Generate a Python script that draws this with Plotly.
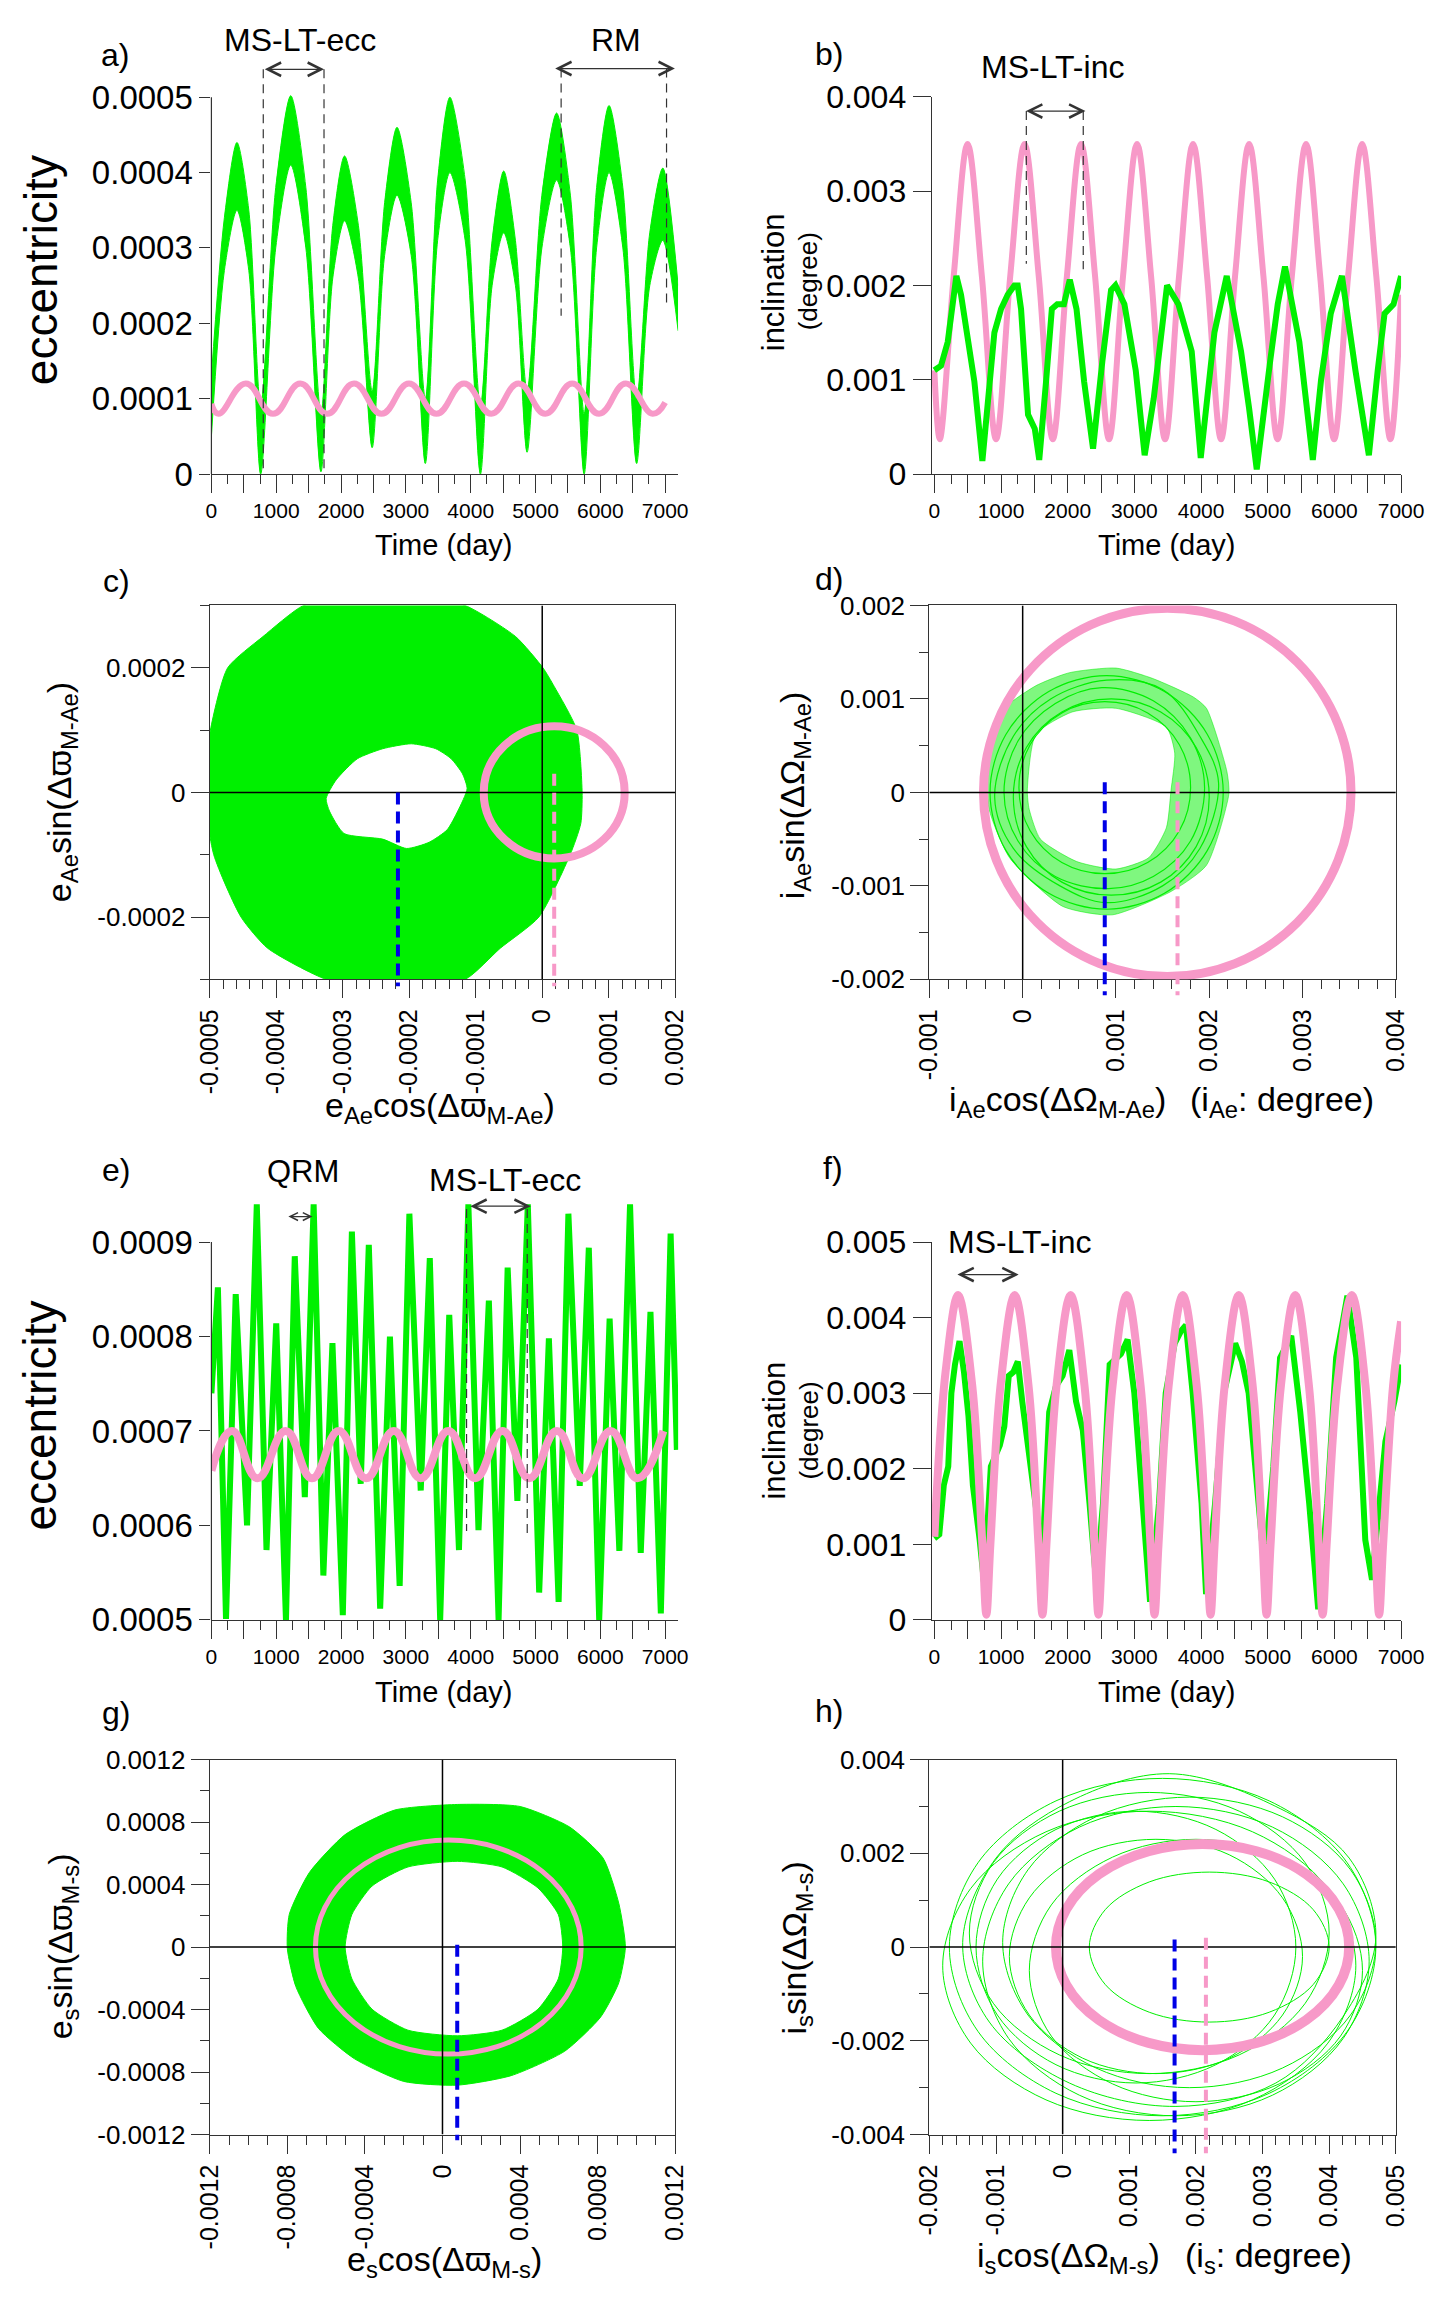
import plotly.graph_objects as go

W, H = 1449, 2309
FONT = "Liberation Sans, Arial, sans-serif"
GREEN = "#00f000"
PINK = "#f799c8"
BLUE = "#0000e6"
INK = "#333333"

# ---------------- values ----------------
time_ticks = [0, 1000, 2000, 3000, 4000, 5000, 6000, 7000]
time_labels = ["0", "1000", "2000", "3000", "4000", "5000", "6000", "7000"]
time_long_ticks = [500, 1500, 2500, 3500, 4500, 5500, 6500]

# a) eccentricity of Ae: upper / lower edge of the fast-oscillation band, and the pink model
a_time = [0, 200, 394, 577, 760, 992, 1224, 1457, 1690, 1872, 2054, 2267, 2480, 2672, 2863, 3082, 3300, 3490,
          3679, 3915, 4150, 4330, 4509, 4690, 4870, 5098, 5325, 5538, 5750, 5942, 6134, 6347, 6560, 6762, 6964, 7200]
a_ecc_hi = [0.00013, 0.00034, 0.00044, 0.00035, 0.00009, 0.00038, 0.000502, 0.00038, 0.00008, 0.00033,
            0.000422, 0.00033, 0.00011, 0.00036, 0.00046, 0.00036, 0.0001, 0.00039, 0.0005, 0.00039,
            0.00009, 0.00031, 0.000402, 0.00031, 0.00011, 0.00037, 0.000479, 0.00037, 0.00008, 0.00038,
            0.000489, 0.00038, 0.0001, 0.00032, 0.000406, 0.00025]
a_ecc_lo = [0.00005, 0.00027, 0.00035, 0.00027, 0.0, 0.0003, 0.00041, 0.0003, 0.000003, 0.00026,
            0.000336, 0.00026, 0.000035, 0.00029, 0.00037, 0.00029, 0.000014, 0.00031, 0.0004, 0.00031,
            0.0, 0.00025, 0.00032, 0.00025, 0.000029, 0.0003, 0.00039, 0.0003, 0.0, 0.0003,
            0.0004, 0.0003, 0.000014, 0.00025, 0.00031, 0.00019]
a_pink_time = [0, 110, 531, 950, 1372, 1786, 2200, 2624, 3048, 3472, 3897, 4318, 4738, 5152, 5566, 5980, 6393, 6806, 7000]
a_pink_ecc = [0.000093, 0.00008, 0.00012, 0.00008, 0.00012, 0.00008, 0.00012, 0.00008, 0.00012, 0.00008,
              0.00012, 0.00008, 0.00012, 0.00008, 0.00012, 0.00008, 0.00012, 0.00008, 0.000095]

# b) inclination of Ae
b_green_time = [0, 100, 200, 300, 330, 400, 480, 600, 720, 834, 900, 1000, 1100, 1200, 1250, 1300, 1405, 1506,
                1573, 1675, 1762, 1843, 1943, 2031, 2132, 2246, 2380, 2520, 2650, 2716, 2850, 3020, 3154, 3290,
                3400, 3490, 3660, 3860, 3995, 4100, 4200, 4385, 4600, 4720, 4835, 5037, 5150, 5259, 5474, 5676,
                5800, 5945, 6113, 6315, 6517, 6650, 6752, 6887, 7000]
b_green_inc = [0.0011, 0.00115, 0.0014, 0.002, 0.0021, 0.0019, 0.0015, 0.00098, 0.00014, 0.001,
               0.0015, 0.00175, 0.0019, 0.002, 0.002, 0.00175, 0.00063, 0.00048, 0.00015, 0.00098,
               0.00175, 0.0018, 0.0018, 0.00206, 0.00175, 0.00098, 0.00027, 0.0012, 0.00195, 0.002,
               0.0018, 0.0011, 0.0002, 0.0008, 0.0014, 0.002, 0.0018, 0.0013, 0.00017, 0.0008,
               0.0015, 0.0021, 0.0013, 0.0007, 0.00005, 0.0012, 0.0018, 0.0022, 0.0014, 0.00015,
               0.001, 0.0017, 0.0021, 0.0011, 0.0002, 0.0011, 0.0017, 0.0018, 0.0021]
b_pink_time = [0, 81, 290, 498, 712, 925, 1138, 1352, 1565, 1776, 1988, 2199, 2410, 2620, 2830, 3040, 3250, 3460,
               3670, 3880, 4090, 4300, 4510, 4721, 4935, 5148, 5362, 5575, 5786, 5996, 6206, 6416, 6628, 6840, 7000]
b_pink_inc = [0.0011, 0.00037, 0.0021, 0.0035, 0.0021, 0.00037, 0.0021, 0.0035, 0.0021, 0.00037, 0.0021, 0.0035,
              0.0021, 0.00037, 0.0021, 0.0035, 0.0021, 0.00037, 0.0021, 0.0035, 0.0021, 0.00037, 0.0021, 0.0035,
              0.0021, 0.00037, 0.0021, 0.0035, 0.0021, 0.00037, 0.0021, 0.0035, 0.0021, 0.00037, 0.0019]

# c) e_Ae phase plane: outer and inner edge of the green ring
c_outer_x = [0.00006, 0.000052, 0.000018, 0.000001, -0.00004, -0.000116, -0.0002, -0.00029, -0.000359, -0.00042,
             -0.000473, -0.000499, -0.000508, -0.000494, -0.000453, -0.000413, -0.000325, -0.00026, -0.00019,
             -0.000116, -0.000063, -0.000005, 0.000042, 0.000058, 0.00006]
c_outer_y = [0.0, 0.0001, 0.00017, 0.0002, 0.00025, 0.0003, 0.000317, 0.000312, 0.0003, 0.00025,
             0.0002, 0.0001, 0.0, -0.0001, -0.0002, -0.00025, -0.0003, -0.000308, -0.000305,
             -0.0003, -0.00025, -0.0002, -0.0001, -0.00005, 0.0]
c_inner_x = [-0.000113, -0.000127, -0.000143, -0.00017, -0.000204, -0.00024, -0.000298, -0.00032, -0.000325,
             -0.00031, -0.000278, -0.00024, -0.000197, -0.00016, -0.000137, -0.00012, -0.000113]
c_inner_y = [0.000006, -0.00003, -0.00006, -0.00008, -0.00009, -0.000075, -0.000066, -0.00003, -0.00001,
             0.00002, 0.000054, 0.00007, 0.000078, 0.00007, 0.000054, 0.00003, 0.000006]
c_pink_circle = [0.000018, 0.0, 0.000106]      # centre x, centre y, radius
c_blue_dash = [-0.000217, 0.0, -0.000311]      # x, top, bottom
c_pink_dash = [0.000018, 0.00003, -0.000311]

# d) i_Ae phase plane
d_outer_x = [0.00221, 0.00219, 0.00197, 0.00183, 0.00139, 0.001, 0.0005, 0.00014, -0.00024, -0.00039,
             -0.00036, -0.00014, 0.00043, 0.00096, 0.00159, 0.00197, 0.00221]
d_outer_y = [-0.00002, 0.00022, 0.0009, 0.00102, 0.00122, 0.00133, 0.00128, 0.00114, 0.00086, 0.00038,
             -0.00018, -0.0007, -0.00122, -0.00131, -0.00106, -0.00078, -0.00002]
d_inner_x = [0.00159, 0.00154, 0.00135, 0.001, 0.00058, 0.00019, 0.00007, 0.00005, 0.00014, 0.00053,
             0.001, 0.00154, 0.00163, 0.00159]
d_inner_y = [0.00002, -0.00038, -0.0007, -0.00082, -0.00074, -0.0005, -0.00018, 0.00002, 0.00062, 0.00086,
             0.0009, 0.0007, 0.00042, 0.00002]
d_loops_x = [
    [0.00215, 0.00198, 0.00152, 0.0009, 0.00028, -0.00018, -0.00035, -0.00018, 0.00028, 0.0009, 0.00152, 0.00198, 0.00215],
    [0.002, 0.00186, 0.00148, 0.00095, 0.00042, 0.00004, -0.0001, 0.00004, 0.00042, 0.00095, 0.00148, 0.00186, 0.002],
    [0.0018, 0.00168, 0.00134, 0.00088, 0.00042, 0.00008, -0.00004, 0.00008, 0.00042, 0.00088, 0.00134, 0.00168, 0.0018],
    [0.0021, 0.0019, 0.0015, 0.0009, 0.0003, -0.0001, -0.0003, -0.0001, 0.0004, 0.0009, 0.0015, 0.0019, 0.0021],
    [0.00195, 0.0018, 0.0014, 0.00085, 0.00035, -0.00005, -0.0002, -0.00005, 0.00035, 0.00092, 0.0014, 0.0018, 0.00195],
]
d_loops_y = [
    [0.0, 0.00062, 0.00108, 0.00125, 0.00108, 0.00062, 0.0, -0.00062, -0.00108, -0.00125, -0.00108, -0.00062, 0.0],
    [-0.00005, 0.00048, 0.00086, 0.001, 0.00086, 0.00048, -0.00005, -0.00058, -0.00096, -0.0011, -0.00096, -0.00058, -0.00005],
    [0.00005, 0.00051, 0.00085, 0.00097, 0.00085, 0.00051, 0.00005, -0.00041, -0.00075, -0.00087, -0.00075, -0.00041, 0.00005],
    [0.0001, 0.0006, 0.0011, 0.0012, 0.001, 0.0006, -0.00005, -0.0006, -0.001, -0.00118, -0.001, -0.0006, 0.0001],
    [0.00005, 0.00058, 0.00098, 0.00112, 0.00095, 0.00055, 0.0, -0.00052, -0.0009, -0.00103, -0.0009, -0.00052, 0.00005],
]
d_pink_circle = [0.00155, 0.0, 0.00197]
d_blue_dash = [0.00088, 0.000108, -0.00217]
d_pink_dash = [0.00166, 0.000108, -0.00217]

# e) eccentricity of s
e_green_time = [0, 100, 225, 375, 550, 700, 850, 1000, 1150, 1286, 1441, 1577, 1727, 1867, 2027, 2167, 2303,
                2428, 2603, 2754, 2904, 3054, 3229, 3369, 3529, 3669, 3819, 3964, 4120, 4280, 4430, 4570, 4720,
                4881, 5056, 5206, 5356, 5507, 5682, 5822, 5982, 6143, 6293, 6458, 6623, 6773, 6933, 7084, 7180]
e_green_ecc = [0.00074, 0.000852, 0.000501, 0.000845, 0.0006, 0.00094, 0.000574, 0.000814, 0.0005, 0.000885,
               0.00063, 0.00094, 0.000547, 0.000793, 0.000505, 0.000911, 0.000644, 0.000897, 0.000512, 0.0008,
               0.000536, 0.00093, 0.000637, 0.000883, 0.0005, 0.000823, 0.000574, 0.00094, 0.000595, 0.000838,
               0.0005, 0.000873, 0.000626, 0.00094, 0.000529, 0.000798, 0.000519, 0.00093, 0.000642, 0.000894,
               0.0005, 0.000819, 0.000573, 0.00094, 0.000571, 0.000826, 0.000507, 0.000909, 0.00068]
e_pink_time = [0, 317, 710, 1145, 1552, 1966, 2386, 2814, 3228, 3655, 4069, 4490, 4903, 5331, 5731, 6159, 6572, 6972]
e_pink_ecc = [0.000658, 0.0007, 0.00065, 0.0007, 0.00065, 0.0007, 0.00065, 0.0007, 0.00065, 0.0007,
              0.00065, 0.0007, 0.00065, 0.0007, 0.00065, 0.0007, 0.00065, 0.0007]

# f) inclination of s
f_green_time = [0, 74, 141, 208, 255, 309, 377, 444, 511, 578, 679, 746, 847, 982, 1049, 1116, 1184, 1251, 1318,
                1453, 1587, 1621, 1722, 1822, 1923, 2024, 2125, 2226, 2327, 2428, 2529, 2629, 2798, 2898, 2999,
                3134, 3235, 3369, 3470, 3605, 3705, 3773, 3874, 4008, 4075, 4210, 4344, 4512, 4613, 4714, 4815,
                4950, 5084, 5185, 5353, 5488, 5622, 5757, 5891, 6026, 6127, 6194, 6328, 6463, 6564, 6665, 6765,
                6900, 7000]
f_green_inc = [0.00108, 0.00113, 0.00178, 0.00203, 0.003, 0.00338, 0.00369, 0.00328, 0.0027, 0.00178,
               0.00106, 0.00048, 0.00203, 0.00231, 0.00256, 0.00323, 0.00328, 0.00342, 0.00289, 0.00203,
               0.00116, 0.00082, 0.00275, 0.00309, 0.00323, 0.00357, 0.00289, 0.00251, 0.00154, 0.00048,
               0.00154, 0.00338, 0.00352, 0.00371, 0.003, 0.00154, 0.00024, 0.00154, 0.003, 0.00366,
               0.00383, 0.0039, 0.003, 0.00154, 0.00034, 0.00154, 0.003, 0.00366, 0.00342, 0.003,
               0.00203, 0.00068, 0.00203, 0.00347, 0.00376, 0.00275, 0.00154, 0.00014, 0.00154, 0.00347,
               0.00395, 0.00429, 0.00347, 0.00106, 0.00053, 0.00154, 0.00236, 0.00289, 0.00338]
f_pink_time = [0, 170, 356, 568, 720, 780, 840, 992, 1204, 1412, 1561, 1621, 1681, 1832, 2044, 2252, 2401, 2461,
               2521, 2673, 2885, 3093, 3242, 3302, 3362, 3514, 3726, 3934, 4083, 4143, 4203, 4354, 4566, 4774,
               4923, 4983, 5043, 5198, 5413, 5618, 5764, 5824, 5884, 6042, 6261, 6466, 6611, 6671, 6731, 6880, 7000]
f_pink_inc = [0.0011, 0.0033, 0.0043,
              0.0031, 0.001, 0.00007, 0.001, 0.0031, 0.0043,
              0.0031, 0.001, 0.00007, 0.001, 0.0031, 0.0043,
              0.0031, 0.001, 0.00007, 0.001, 0.0031, 0.0043,
              0.0031, 0.001, 0.00007, 0.001, 0.0031, 0.0043,
              0.0031, 0.001, 0.00007, 0.001, 0.0031, 0.0043,
              0.0031, 0.001, 0.00007, 0.001, 0.0031, 0.0043,
              0.0031, 0.001, 0.00007, 0.001, 0.0031, 0.0043,
              0.0031, 0.001, 0.00007, 0.001, 0.0031, 0.00395]

# g) e_s phase plane
g_outer_x = [0.000943, 0.000909, 0.000828, 0.000654, 0.0004, 0.000076, -0.000247, -0.000502, -0.000687, -0.00079,
             -0.0008, -0.000756, -0.00064, -0.000455, -0.0002, 0.000076, 0.000354, 0.000631, 0.000816, 0.000909,
             0.000943]
g_outer_y = [0.0, 0.00028, 0.00057, 0.00077, 0.0009, 0.000913, 0.000877, 0.00072, 0.000476, 0.000209,
             -0.00001, -0.000253, -0.00052, -0.000714, -0.00086, -0.000884, -0.000823, -0.000666, -0.000447,
             -0.000228, 0.0]
g_inner_x = [0.00062, 0.000597, 0.000492, 0.000307, 0.000076, -0.000178, -0.000363, -0.000467, -0.000502,
             -0.000467, -0.000363, -0.000178, 0.000076, 0.000307, 0.000492, 0.000597, 0.00062]
g_inner_y = [0.0, -0.000204, -0.000398, -0.000532, -0.000568, -0.000532, -0.000398, -0.000204, 0.0,
             0.000209, 0.000391, 0.000513, 0.000549, 0.000513, 0.000379, 0.000209, 0.0]
g_pink_circle = [0.00003, 0.0, 0.000685]
g_blue_dash = [0.000076, 0.000015, -0.001236]

# h) i_s phase plane: loose loops
h_loops_x = [
    [0.0047, 0.00427, 0.0031, 0.0015, -0.0001, -0.00127, -0.0017, -0.00127, -0.0001, 0.0015, 0.0031, 0.00427, 0.0047],
    [0.0046, 0.00421, 0.00315, 0.0017, 0.00025, -0.00081, -0.0012, -0.00081, 0.00025, 0.0017, 0.00315, 0.00421, 0.0046],
    [0.004, 0.00364, 0.00265, 0.0013, -0.00005, -0.00104, -0.0014, -0.00104, -0.00005, 0.0013, 0.00265, 0.00364, 0.004],
    [0.0045, 0.00417, 0.00325, 0.002, 0.00075, -0.00017, -0.0005, -0.00017, 0.00075, 0.002, 0.00325, 0.00417, 0.0045],
    [0.0047, 0.0043, 0.0032, 0.0016, 0.0001, -0.001, -0.0015, -0.0011, 0.0001, 0.0017, 0.0032, 0.0042, 0.0047],
    [0.004, 0.00376, 0.0031, 0.0022, 0.0013, 0.00064, 0.0004, 0.00064, 0.0013, 0.0022, 0.0031, 0.00376, 0.004],
    [0.0036, 0.0033, 0.0025, 0.0014, 0.0003, -0.0005, -0.0008, -0.0005, 0.0003, 0.0014, 0.0025, 0.0033, 0.0036],
    [0.0044, 0.00398, 0.00285, 0.0013, -0.00025, -0.00138, -0.0018, -0.00138, -0.00025, 0.0013, 0.00285, 0.00398, 0.0044],
    [0.0047, 0.00432, 0.0033, 0.0019, 0.0005, -0.00052, -0.0009, -0.00052, 0.0005, 0.0019, 0.0033, 0.00432, 0.0047],
    [0.0035, 0.00318, 0.0023, 0.0011, -0.0001, -0.00098, -0.0013, -0.00098, -0.0001, 0.0011, 0.0023, 0.00318, 0.0035],
]
h_loops_y = [
    [0.0, 0.0018, 0.00312, 0.0036, 0.00312, 0.0018, 0.0, -0.0018, -0.00312, -0.0036, -0.00312, -0.0018, 0.0],
    [-0.0003, 0.00135, 0.00256, 0.003, 0.00256, 0.00135, -0.0003, -0.00195, -0.00316, -0.0036, -0.00316, -0.00195, -0.0003],
    [0.0003, 0.0018, 0.0029, 0.0033, 0.0029, 0.0018, 0.0003, -0.0012, -0.0023, -0.0027, -0.0023, -0.0012, 0.0003],
    [-0.0005, 0.0009, 0.00192, 0.0023, 0.00192, 0.0009, -0.0005, -0.0019, -0.00292, -0.0033, -0.00292, -0.0019, -0.0005],
    [0.0002, 0.0019, 0.003, 0.0037, 0.0031, 0.0019, 0.0001, -0.0016, -0.0029, -0.0034, -0.0029, -0.0015, 0.0002],
    [0.0, 0.0008, 0.00139, 0.0016, 0.00139, 0.0008, 0.0, -0.0008, -0.00139, -0.0016, -0.00139, -0.0008, 0.0],
    [-0.0002, 0.00105, 0.00197, 0.0023, 0.00197, 0.00105, -0.0002, -0.00145, -0.00237, -0.0027, -0.00237, -0.00145, -0.0002],
    [-0.0004, 0.00125, 0.00246, 0.0029, 0.00246, 0.00125, -0.0004, -0.00205, -0.00326, -0.0037, -0.00326, -0.00205, -0.0004],
    [0.0001, 0.00165, 0.00278, 0.0032, 0.00278, 0.00165, 0.0001, -0.00145, -0.00258, -0.003, -0.00258, -0.00145, 0.0001],
    [0.0, 0.00145, 0.00251, 0.0029, 0.00251, 0.00145, 0.0, -0.00145, -0.00251, -0.0029, -0.00251, -0.00145, 0.0],
]
h_pink_circle = [0.0021, 0.0, 0.0022]
h_blue_dash = [0.00168, 0.00016, -0.0044]
h_pink_dash = [0.00215, 0.0002, -0.0044]

# period markers on the time plots: [start, end, level]
a_msltecc = [800, 1737, 0.000537]
a_rm = [5280, 7150, 0.000538]
a_guides = [[800, 0.000537, 0.000005], [1737, 0.000537, 0.000005], [5395, 0.000538, 0.00021], [7021, 0.000538, 0.000224]]
b_msltinc = [1352, 2266, 0.003848]
b_guides = [[1379, 0.003848, 0.00223], [2233, 0.003848, 0.00217]]
e_qrm = [1164, 1559, 0.000927]
e_msltecc = [3971, 4927, 0.000938]
e_guides = [[3936, 0.000935, 0.000594], [4872, 0.000935, 0.000587]]
f_msltinc = [323, 1264, 0.00457]


# ---------------- layout helpers ----------------
def xid(n):
    return "x" if n == 1 else "x%d" % n


def yid(n):
    return "y" if n == 1 else "y%d" % n


def xdom(p0, p1):
    return [p0 / W, p1 / W]


def ydom(top, bottom):
    return [1 - bottom / H, 1 - top / H]


def frac(v, rng):
    return (v - rng[0]) / (rng[1] - rng[0])


def fmt(v):
    if v == 0:
        return "0"
    return ("%.4f" % v).rstrip("0")


def ticks_style(ticklen, size):
    return dict(ticks="outside", ticklen=ticklen, tickwidth=1.2, tickcolor=INK,
                tickfont=dict(size=size, color="black", family=FONT),
                showgrid=False, zeroline=False, fixedrange=True)


def minor_ticks(step, ticklen=9):
    return dict(tickmode="linear", tick0=0, dtick=step, ticks="outside", ticklen=ticklen, tickcolor=INK, tickwidth=1.2)


def time_x(n, px, rng):
    d = dict(domain=xdom(*px), range=rng, anchor=yid(n), showline=True, linecolor=INK, linewidth=1.2,
             tickmode="array", tickvals=time_ticks, ticktext=time_labels, minor=minor_ticks(250))
    d.update(ticks_style(18, 21))
    return d


def long_ticks_x(n, px, rng):
    # second, label-free axis that only adds the long ticks half way between the labels
    d = dict(domain=xdom(*px), range=rng, anchor=yid(n), overlaying=xid(n), side="bottom", showline=False,
             tickmode="array", tickvals=time_long_ticks, showticklabels=False)
    d.update(ticks_style(18, 21))
    return d


def value_y(n, py, rng, vals, ticklen, size, showline=True, mirror=False, minor=None):
    d = dict(domain=ydom(*py), range=rng, anchor=xid(n), showline=showline, mirror=mirror, linecolor=INK,
             linewidth=1.2, tickmode="array", tickvals=vals, ticktext=[fmt(v) for v in vals])
    d.update(ticks_style(ticklen, size))
    if minor:
        d["minor"] = minor_ticks(minor)
    return d


def phase_x(n, px, rng, vals, minor):
    d = dict(domain=xdom(*px), range=rng, anchor=yid(n), showline=True, mirror=True, linecolor=INK, linewidth=1.2,
             tickmode="array", tickvals=vals, ticktext=[fmt(v) for v in vals], tickangle=-90, ticklabelstandoff=1,
             minor=minor_ticks(minor))
    d.update(ticks_style(18, 25))
    return d


ranges = {
    1: ([0, 7200], [0, 0.00056]),
    2: ([-40, 7000], [0, 0.004]),
    3: ([-0.0005, 0.0002], [-0.0003, 0.0003]),
    4: ([-0.001, 0.004], [-0.002, 0.002]),
    5: ([0, 7200], [0.0005, 0.00097]),
    6: ([-40, 7000], [0, 0.005]),
    7: ([-0.0012, 0.0012], [-0.0012, 0.0012]),
    8: ([-0.002, 0.005], [-0.004, 0.004]),
}
time_px = {1: (201.7, 681), 2: (941.4, 1423.4), 5: (201.7, 681), 6: (941.4, 1423.4)}

axes = {
    "xaxis": time_x(1, time_px[1], ranges[1][0]),
    "yaxis": value_y(1, (34.5, 463.5), ranges[1][1], [0, 0.0001, 0.0002, 0.0003, 0.0004, 0.0005], 11, 33, showline=False),
    "xaxis2": time_x(2, time_px[2], ranges[2][0]),
    "yaxis2": value_y(2, (80, 463.5), ranges[2][1], [0, 0.001, 0.002, 0.003, 0.004], 18, 32),
    "xaxis3": phase_x(3, (200, 678), ranges[3][0], [-0.0005, -0.0004, -0.0003, -0.0002, -0.0001, 0, 0.0001, 0.0002], 0.00002),
    "yaxis3": value_y(3, (597, 977), ranges[3][1], [-0.0002, 0, 0.0002], 18, 26, mirror=True, minor=0.0001),
    "xaxis4": phase_x(4, (939, 1418), ranges[4][0], [-0.001, 0, 0.001, 0.002, 0.003, 0.004], 0.0002),
    "yaxis4": value_y(4, (597, 977), ranges[4][1], [-0.002, -0.001, 0, 0.001, 0.002], 18, 26, mirror=True, minor=0.0005),
    "xaxis5": time_x(5, time_px[5], ranges[5][0]),
    "yaxis5": value_y(5, (1176.8, 1628), ranges[5][1], [0.0005, 0.0006, 0.0007, 0.0008, 0.0009], 11, 33, showline=False),
    "xaxis6": time_x(6, time_px[6], ranges[6][0]),
    "yaxis6": value_y(6, (1244, 1628), ranges[6][1], [0, 0.001, 0.002, 0.003, 0.004, 0.005], 18, 32),
    "xaxis7": phase_x(7, (200, 678), ranges[7][0], [-0.0012, -0.0008, -0.0004, 0, 0.0004, 0.0008, 0.0012], 0.0001),
    "yaxis7": value_y(7, (1770, 2151), ranges[7][1], [-0.0012, -0.0008, -0.0004, 0, 0.0004, 0.0008, 0.0012], 18, 26, mirror=True, minor=0.0002),
    "xaxis8": phase_x(8, (939, 1418), ranges[8][0], [-0.002, -0.001, 0, 0.001, 0.002, 0.003, 0.004, 0.005], 0.0002),
    "yaxis8": value_y(8, (1770, 2151), ranges[8][1], [-0.004, -0.002, 0, 0.002, 0.004], 18, 26, mirror=True, minor=0.001),
}
for extra, n in zip((9, 10, 11, 12), (1, 2, 5, 6)):
    axes["xaxis%d" % extra] = long_ticks_x(n, time_px[n], ranges[n][0])

fig = go.Figure()


def add(n, xa=None, **kw):
    fig.add_trace(go.Scatter(xaxis=xa or xid(n), yaxis=yid(n), showlegend=False, hoverinfo="skip", **kw))


def ring(n, ox, oy, ix, iy, color):
    # outer edge one way round, inner edge the other way, so the middle stays empty
    add(n, x=ox + [None] + ix, y=oy + [None] + iy, mode="lines", fill="toself", fillcolor=color,
        line=dict(color=color, width=1, shape="spline", smoothing=0.6))


def circle(n, c, width):
    cx, cy, r = c
    fig.add_shape(type="circle", xref=xid(n), yref=yid(n), x0=cx - r, x1=cx + r, y0=cy - r, y1=cy + r,
                  line=dict(color=PINK, width=width), layer="above")


def zero_lines(n):
    xr, yr = ranges[n]
    fig.add_shape(type="line", xref=xid(n), yref=yid(n), x0=0, x1=0, y0=yr[0], y1=yr[1],
                  line=dict(color="black", width=1.5), layer="above")
    fig.add_shape(type="line", xref=xid(n), yref=yid(n), x0=xr[0], x1=xr[1], y0=0, y1=0,
                  line=dict(color="black", width=1.5), layer="above")


def dash(n, d, color):
    xr, yr = ranges[n]
    fig.add_shape(type="line", xref=xid(n) + " domain", yref=yid(n) + " domain",
                  x0=frac(d[0], xr), x1=frac(d[0], xr), y0=frac(d[1], yr), y1=frac(d[2], yr),
                  line=dict(color=color, width=4, dash="12px,7px"), layer="above")


def guide(n, g):
    fig.add_shape(type="line", xref=xid(n), yref=yid(n), x0=g[0], x1=g[0], y0=g[1], y1=g[2],
                  line=dict(color=INK, width=1.2, dash="9px,6px"), layer="above")


def arrow(n, a, size=2.2):
    fig.add_annotation(x=a[1], y=a[2], ax=a[0], ay=a[2], xref=xid(n), yref=yid(n), axref=xid(n), ayref=yid(n),
                       text="", showarrow=True, arrowhead=5, startarrowhead=5, arrowside="end+start",
                       arrowsize=size, startarrowsize=size, arrowwidth=1.2, arrowcolor=INK)


def label(s, x, y, size, angle=0):
    fig.add_annotation(text=s, x=x / W, y=1 - y / H, xref="paper", yref="paper", showarrow=False,
                       textangle=angle, xanchor="center", yanchor="middle",
                       font=dict(size=size, color="black", family=FONT))


def axis_line(n, y0, y1):
    fig.add_shape(type="line", xref=xid(n) + " domain", yref=yid(n), x0=0, x1=0, y0=y0, y1=y1,
                  line=dict(color=INK, width=1.2))


# a)
add(1, x=a_time, y=a_ecc_lo, mode="lines", line=dict(color=GREEN, width=1, shape="spline", smoothing=0.8))
add(1, x=a_time, y=a_ecc_hi, mode="lines", fill="tonexty", fillcolor=GREEN,
    line=dict(color=GREEN, width=1, shape="spline", smoothing=0.8))
add(1, x=a_pink_time, y=a_pink_ecc, mode="lines", line=dict(color=PINK, width=6, shape="spline", smoothing=1.3))
axis_line(1, 0, 0.0005)
for g in a_guides:
    guide(1, g)
arrow(1, a_msltecc)
arrow(1, a_rm)

# b)
add(2, x=b_pink_time, y=b_pink_inc, mode="lines", line=dict(color=PINK, width=6, shape="spline", smoothing=1.0))
add(2, x=b_green_time, y=b_green_inc, mode="lines", line=dict(color=GREEN, width=6))
for g in b_guides:
    guide(2, g)
arrow(2, b_msltinc)

# c)
ring(3, c_outer_x, c_outer_y, c_inner_x, c_inner_y, GREEN)
circle(3, c_pink_circle, 8)
zero_lines(3)
dash(3, c_blue_dash, BLUE)
dash(3, c_pink_dash, PINK)

# d)
ring(4, d_outer_x, d_outer_y, d_inner_x, d_inner_y, "rgba(0,240,0,0.5)")
for lx, ly in zip(d_loops_x, d_loops_y):
    add(4, x=lx, y=ly, mode="lines", line=dict(color=GREEN, width=1.2, shape="spline", smoothing=1.0))
circle(4, d_pink_circle, 9)
zero_lines(4)
dash(4, d_blue_dash, BLUE)
dash(4, d_pink_dash, PINK)

# e)
add(5, x=e_green_time, y=e_green_ecc, mode="lines", line=dict(color=GREEN, width=6))
add(5, x=e_pink_time, y=e_pink_ecc, mode="lines", line=dict(color=PINK, width=8, shape="spline", smoothing=1.3))
axis_line(5, 0.0005, 0.0009)
for g in e_guides:
    guide(5, g)
arrow(5, e_qrm, 1.3)
arrow(5, e_msltecc)

# f)
add(6, x=f_green_time, y=f_green_inc, mode="lines", line=dict(color=GREEN, width=6))
add(6, x=f_pink_time, y=f_pink_inc, mode="lines", line=dict(color=PINK, width=8, shape="spline", smoothing=1.0))
arrow(6, f_msltinc)

# g)
ring(7, g_outer_x, g_outer_y, g_inner_x, g_inner_y, GREEN)
circle(7, g_pink_circle, 5)
zero_lines(7)
dash(7, g_blue_dash, BLUE)

# h)
for lx, ly in zip(h_loops_x, h_loops_y):
    add(8, x=lx, y=ly, mode="lines", line=dict(color=GREEN, width=1, shape="spline", smoothing=1.0))
circle(8, h_pink_circle, 10)
zero_lines(8)
dash(8, h_blue_dash, BLUE)
dash(8, h_pink_dash, PINK)

# the long-tick axes need a trace to be drawn; an empty one is enough
for extra, n in zip((9, 10, 11, 12), (1, 2, 5, 6)):
    add(n, xa="x%d" % extra, x=[], y=[], mode="lines")

# panel letters and period names
for s, x, y in [("a)", 103, 38), ("b)", 836, 37), ("c)", 104, 572), ("d)", 836, 570),
                ("e)", 104, 1171), ("f)", 840, 1169), ("g)", 104, 1723), ("h)", 836, 1721)]:
    label(s, x, y, 32)
label("MS-LT-ecc", 293, 22, 32)
label("RM", 617, 22, 32)
label("MS-LT-inc", 1065, 50, 32)
label("QRM", 296, 1172, 31)
label("MS-LT-ecc", 503, 1181, 32)
label("MS-LT-inc", 1032, 1244, 32)

# axis titles
label("eccentricity", 27, 256, 46, -90)
label("eccentricity", 26, 1420, 46, -90)
label("inclination", 779, 269, 31, -90)
label("(degree)", 814, 268, 26, -90)
label("inclination", 780, 1436, 31, -90)
label("(degree)", 815, 1436, 26, -90)
for y in (536, 1701):
    label("Time (day)", 441, y, 29)
for y in (536, 1701):
    label("Time (day)", 1183, y, 29)
label("e<sub>Ae</sub>sin(\u0394\u03d6<sub>M-Ae</sub>)", 48, 787, 34, -90)
label("e<sub>Ae</sub>cos(\u0394\u03d6<sub>M-Ae</sub>)", 436, 1107, 34)
label("i<sub>Ae</sub>sin(\u0394\u03a9<sub>M-Ae</sub>)", 800, 790, 34, -90)
label("i<sub>Ae</sub>cos(\u0394\u03a9<sub>M-Ae</sub>)", 1071, 1101, 34)
label("(i<sub>Ae</sub>: degree)", 1301, 1101, 34)
label("e<sub>s</sub>sin(\u0394\u03d6<sub>M-s</sub>)", 49, 1960, 34, -90)
label("e<sub>s</sub>cos(\u0394\u03d6<sub>M-s</sub>)", 441, 2280, 34)
label("i<sub>s</sub>sin(\u0394\u03a9<sub>M-s</sub>)", 803, 1961, 34, -90)
label("i<sub>s</sub>cos(\u0394\u03a9<sub>M-s</sub>)", 1082, 2276, 34)
label("(i<sub>s</sub>: degree)", 1287, 2276, 34)

fig.update_layout(width=W, height=H, margin=dict(l=0, r=0, t=0, b=0), showlegend=False,
                  paper_bgcolor="white", plot_bgcolor="white",
                  font=dict(family=FONT, color="black"), **axes)

# the page's default body margin would push the figure 8px down and right
fig.write_html("out.html", config={"displayModeBar": False},
               post_script="document.body.style.margin='0px';")
